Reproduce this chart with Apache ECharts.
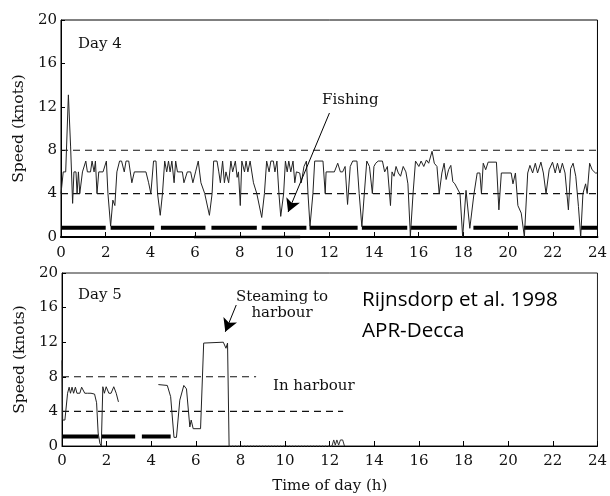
<!DOCTYPE html>
<html><head><meta charset="utf-8">
<script src="https://cdn.jsdelivr.net/npm/echarts@6/dist/echarts.min.js"></script>
<style>html,body{margin:0;padding:0;background:#fff}#c{width:610px;height:496px}</style>
</head><body><div id="c"></div>
<script>
// ---- Day 4 vessel speed track: [hour, knots]
const day4Track = [
 [0,4],[0.10,6],[0.21,6],[0.33,13.1],[0.43,8.3],[0.52,3.1],[0.58,6],[0.67,6],[0.72,4],[0.78,6],
 [0.84,4],[0.96,6],[1.11,7],[1.18,6],[1.32,6],[1.39,7],[1.48,6],[1.54,7],[1.61,4],[1.69,6],
 [1.88,6],[2.03,7],[2.10,4],[2.22,1],[2.32,3.4],[2.41,2.9],[2.50,6],[2.62,7],[2.71,7],[2.83,6],
 [2.91,7],[3.03,7],[3.17,5],[3.28,6],[3.80,6],[3.92,5],[4.02,4],[4.14,7],[4.25,7],[4.32,4],
 [4.44,2],[4.54,4],[4.64,7],[4.73,6],[4.81,7],[4.88,6],[4.96,7],[5.06,5],[5.13,7],[5.21,6],
 [5.43,6],[5.50,5],[5.65,6],[5.80,6],[5.90,5],[6.02,6],[6.14,7],[6.26,5],[6.43,4],[6.64,2],
 [6.76,4],[6.83,7],[6.98,7],[7.06,6],[7.13,5],[7.23,7],[7.31,5],[7.38,6],[7.50,5],[7.60,7],
 [7.68,6],[7.80,7],[7.88,5.5],[7.94,6],[8.02,2.9],[8.09,7],[8.21,6],[8.28,7],[8.36,6],[8.46,7],
 [8.61,5],[8.76,4],[8.98,1.8],[9.10,4],[9.20,7],[9.31,6],[9.39,7],[9.50,7],[9.57,6],[9.66,7],
 [9.75,4],[9.83,1.9],[9.96,4],[10.04,7],[10.12,6],[10.19,7],[10.28,6],[10.38,7],[10.46,5],[10.53,6],
 [10.68,5.9],[10.75,5],[10.87,6.5],[10.98,7],[11.05,4],[11.14,1],[11.27,4],[11.35,7],[11.72,7],[11.82,4],
 [11.86,6],[12.23,6],[12.38,6.8],[12.50,6],[12.60,6],[12.71,6.5],[12.82,3.0],[12.94,6.5],[13.05,7],[13.24,7],
 [13.34,4],[13.46,0.95],[13.57,4],[13.68,7],[13.80,6.5],[13.93,4],[14.00,6.5],[14.08,6.8],[14.19,7],[14.38,7],
 [14.48,6],[14.60,6.5],[14.74,2.9],[14.81,6],[14.90,5.6],[14.99,6.5],[15.09,5.9],[15.19,5.6],[15.31,6.5],[15.43,6],
 [15.52,4.9],[15.63,0.1],[15.75,4],[15.86,7],[16.01,6.5],[16.11,7],[16.23,6.5],[16.35,7.1],[16.45,6.8],[16.60,7.9],
 [16.70,6.8],[16.82,6.5],[16.92,4],[17.04,5.9],[17.14,6.8],[17.23,5.3],[17.34,6.2],[17.44,6.6],[17.53,5.1],[17.62,4.9],
 [17.70,4.9],[17.85,4],[17.97,0],[18.12,4.3],[18.29,0.8],[18.47,3.9],[18.62,5.9],[18.74,5.9],[18.81,4],[18.89,6.8],
 [19.00,6.2],[19.11,6.9],[19.48,6.9],[19.59,2.5],[19.70,5.9],[20.14,5.9],[20.22,4.9],[20.33,5.9],[20.44,2.9],[20.59,2.2],
 [20.73,0],[20.88,5.9],[20.98,6.6],[21.10,5.9],[21.22,6.8],[21.32,5.9],[21.47,6.9],[21.58,5.9],[21.70,4],[21.84,6.2],
 [21.99,6.9],[22.11,5.9],[22.21,6.8],[22.32,5.9],[22.43,6.8],[22.55,5.9],[22.70,2.5],[22.80,6.3],[22.91,6.8],[23.03,5.6],
 [23.15,2.8],[23.25,0],[23.35,4],[23.47,4.9],[23.54,4],[23.65,6.8],[23.76,6.2],[23.91,5.9],[24.00,5.9]
];
// Day 4 fishing periods (bold bars)
const day4FishStart = [0, 2.22, 4.47, 6.73, 8.98, 11.12, 13.46, 15.64, 18.45, 20.71, 23.26];
const day4FishEnd   = [2.0, 4.17, 6.46, 8.76, 10.98, 13.27, 15.49, 17.71, 20.44, 22.96, 24];
const day4FishLevel = 0.85;
const day4Ground = [[5.95,0],[10.7,0]];

// ---- Day 5 vessel speed track ('-' = gap)
const day5Track = [
 [0,9.9],[0.03,3.0],[0.13,3.0],[0.25,6.1],[0.32,6.8],[0.38,6.1],[0.45,6.8],[0.52,6.1],[0.60,6.8],[0.67,6.1],
 [0.80,6.1],[0.88,6.8],[0.95,6.8],[1.02,6.1],[1.15,6.1],[1.30,6.1],[1.46,6.0],[1.55,5.0],[1.62,1.5],[1.70,0.3],
 [1.76,0],[1.83,6.85],[1.90,6.1],[1.98,6.85],[2.10,6.1],[2.20,6.1],[2.32,6.85],[2.43,6.1],[2.53,5.1],[2.53,'-'],
 [4.32,7.1],[4.72,7.0],[4.87,5.7],[5.02,1.0],[5.13,1.0],[5.28,5.3],[5.46,7.0],[5.58,6.6],[5.73,2.2],[5.79,3.0],
 [5.88,2.0],[6.21,2.0],[6.35,11.9],[6.42,12],[7.23,12],[7.35,11.3],[7.42,11.9],[7.49,0]
];
const day5HarbourTrack = [[7.49,0],[12.1,0]];
const day5Wiggle = [[12.1,0],[12.18,0.7],[12.25,0.1],[12.32,0.7],[12.40,0.1],[12.48,0.7],[12.58,0.7],[12.66,0]];
const day5FishStart = [0, 1.76, 3.58];
const day5FishEnd   = [1.64, 3.28, 4.87];
const day5FishLevel = 1.1;

// ---- speed thresholds (knots) and where their dashed lines end (hours)
const thresholdValues = [8, 4];
const day4ThresholdEnd = [24, 24];
const day5ThresholdEnd = [8.7, 12.6];

// ---- annotation arrows [from, to] in data units
const fishingArrow = [[12.01,11.43],[10.16,2.3]];
const steamingArrow = [[7.81,16.3],[7.32,13.2]];

const SERIF = '"DejaVu Serif", "Liberation Serif", serif';

function segments(starts, ends, level) {
  const out = [];
  starts.forEach((s, i) => { out.push([s, level], [ends[i], level], [ends[i], '-']); });
  return out;
}
function thresholdSeries(gi, ends) {
  return thresholdValues.map((v, i) => ({
    type: 'line', xAxisIndex: gi, yAxisIndex: gi, showSymbol: false, silent: true,
    data: [[0, v], [ends[i], v]],
    lineStyle: { color: '#111', width: 1.1, type: [7, 5] }
  }));
}
function arrow(pair) {
  return [{ coord: pair[0], symbol: 'none' }, { coord: pair[1], symbol: 'arrow' }];
}

const xBase = (gi, margin) => ({
  gridIndex: gi, type: 'value', min: 0, max: 24, interval: 2,
  axisLine: { show: true, onZero: false, lineStyle: { color: '#000', width: 1 } },
  axisTick: { show: true, inside: true, length: 5, lineStyle: { color: '#000' } },
  axisLabel: { fontFamily: SERIF, fontSize: 15, color: '#111', margin: margin },
  splitLine: { show: false }
});
const yBase = (gi) => ({
  gridIndex: gi, type: 'value', min: 0, max: 20, interval: 4,
  name: 'Speed (knots)', nameLocation: 'middle', nameGap: 31, nameRotate: 90,
  nameTextStyle: { fontFamily: SERIF, fontSize: 15.5, color: '#111' },
  axisLine: { show: true, lineStyle: { color: '#000', width: 1 } },
  axisTick: { show: true, inside: true, length: 4, lineStyle: { color: '#000' } },
  axisLabel: { fontFamily: SERIF, fontSize: 15, color: '#111', margin: 4 },
  splitLine: { show: false }
});

const chart = echarts.init(document.getElementById('c'), null, { renderer: 'canvas' });
chart.setOption({
  animation: false,
  backgroundColor: '#fff',
  grid: [
    { left: 61, top: 20, width: 541, height: 217, show: true, borderColor: '#000', borderWidth: 1 },
    { left: 62, top: 273, width: 540, height: 173, show: true, borderColor: '#222', borderWidth: 1 }
  ],
  xAxis: [
    xBase(0, 9),
    Object.assign(xBase(1, 8), {
      name: 'Time of day (h)', nameLocation: 'middle', nameGap: 33,
      nameTextStyle: { fontFamily: SERIF, fontSize: 15, color: '#111' }
    }),
    { gridIndex: 0, type: 'value', position: 'top', min: 0, max: 24,
      axisLine: { show: true, lineStyle: { color: '#000', width: 2 } },
      axisTick: { show: false }, axisLabel: { show: false }, splitLine: { show: false } }
  ],
  yAxis: [yBase(0), yBase(1)],
  graphic: [
    { type: 'text', x: 78, y: 44, style: { text: 'Day 4', font: '15px ' + SERIF, fill: '#111', verticalAlign: 'middle' } },
    { type: 'text', x: 322, y: 100, style: { text: 'Fishing', font: '15px ' + SERIF, fill: '#111', verticalAlign: 'middle' } },
    { type: 'text', x: 78, y: 295, style: { text: 'Day 5', font: '15px ' + SERIF, fill: '#111', verticalAlign: 'middle' } },
    { type: 'text', x: 282, y: 305, style: { text: 'Steaming to\nharbour', font: '15px ' + SERIF, lineHeight: 16, fill: '#111', align: 'center', verticalAlign: 'middle' } },
    { type: 'text', x: 273, y: 386, style: { text: 'In harbour', font: '15px ' + SERIF, fill: '#111', verticalAlign: 'middle' } },
    { type: 'text', x: 362, y: 300, style: { text: 'Rijnsdorp et al. 1998', font: '20.6px "Open Sans"', fill: '#000', verticalAlign: 'middle' } },
    { type: 'text', x: 362, y: 331, style: { text: 'APR-Decca', font: '20.6px "Open Sans"', fill: '#000', verticalAlign: 'middle' } }
  ],
  series: [
    ...thresholdSeries(0, day4ThresholdEnd),
    { type: 'line', xAxisIndex: 0, yAxisIndex: 0, showSymbol: false, silent: true,
      data: segments(day4FishStart, day4FishEnd, day4FishLevel),
      lineStyle: { color: '#000', width: 4 } },
    { type: 'line', xAxisIndex: 0, yAxisIndex: 0, showSymbol: false, silent: true, clip: false,
      data: day4Ground, lineStyle: { color: '#000', width: 2.5 } },
    { type: 'line', xAxisIndex: 0, yAxisIndex: 0, showSymbol: false, silent: true, clip: false,
      data: day4Track, lineStyle: { color: '#222', width: 1 },
      markLine: { silent: true, animation: false, symbolSize: [11, 13], label: { show: false },
        lineStyle: { color: '#000', width: 1, type: 'solid' }, data: [arrow(fishingArrow)] } },

    ...thresholdSeries(1, day5ThresholdEnd),
    { type: 'line', xAxisIndex: 1, yAxisIndex: 1, showSymbol: false, silent: true,
      data: segments(day5FishStart, day5FishEnd, day5FishLevel),
      lineStyle: { color: '#000', width: 4 } },
    { type: 'line', xAxisIndex: 1, yAxisIndex: 1, showSymbol: false, silent: true, clip: false,
      data: day5Track, lineStyle: { color: '#222', width: 1 },
      markLine: { silent: true, animation: false, symbolSize: [11, 13], label: { show: false },
        lineStyle: { color: '#000', width: 1, type: 'solid' }, data: [arrow(steamingArrow)] } },
    { type: 'line', xAxisIndex: 1, yAxisIndex: 1, showSymbol: false, silent: true, clip: false,
      data: day5HarbourTrack, lineStyle: { color: '#444', width: 1, type: [1, 2] } },
    { type: 'line', xAxisIndex: 1, yAxisIndex: 1, showSymbol: false, silent: true, clip: false,
      data: day5Wiggle, lineStyle: { color: '#333', width: 1 } }
  ]
});
</script></body></html>
